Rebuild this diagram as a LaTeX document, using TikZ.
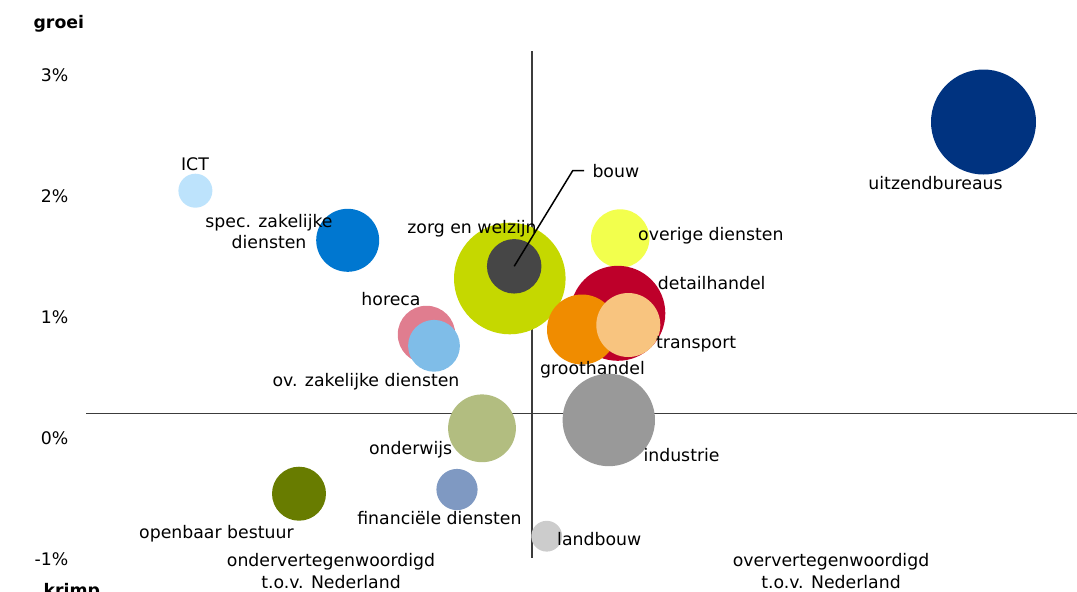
\documentclass[tikz,border=0pt]{standalone}
\usepackage{fontspec}
\setmainfont{DejaVu Sans}
\newcommand\lblfont{\fontsize{17.3}{21.3}\selectfont}
\definecolor{cICT}{HTML}{BDE3FC}
\definecolor{cSpec}{HTML}{0077D0}
\definecolor{cZorg}{HTML}{C5D800}
\definecolor{cBouw}{HTML}{464646}
\definecolor{cOver}{HTML}{F2FF4D}
\definecolor{cDetail}{HTML}{BE002A}
\definecolor{cGroot}{HTML}{F08C00}
\definecolor{cTrans}{HTML}{F8C47F}
\definecolor{cHoreca}{HTML}{E07D8F}
\definecolor{cOvzak}{HTML}{7FBDE8}
\definecolor{cOnder}{HTML}{B2BD80}
\definecolor{cOpen}{HTML}{687C00}
\definecolor{cFin}{HTML}{7F99C2}
\definecolor{cLand}{HTML}{CCCCCC}
\definecolor{cInd}{HTML}{999999}
\definecolor{cUitz}{HTML}{003380}
\definecolor{cAxis}{HTML}{3C3C3C}
\tikzset{
  bub/.style={circle, inner sep=0pt, outer sep=0pt, minimum size=#1},
  lbl/.style={font=\lblfont, inner sep=0pt, anchor=base, text=black},
  lblw/.style={lbl, anchor=base west},
  tick/.style={lbl, anchor=base east},
  axis/.style={draw=cAxis, line width=1.6pt},
  leader/.style={draw=black, line width=1.5pt},
}
\begin{document}
\begin{tikzpicture}[x=1pt,y=-1pt]
\useasboundingbox (0,0) rectangle (1077,592);
\clip (0,0) rectangle (1077,592);
% axes
\coordinate (vt) at (532,51);
\coordinate (vb) at (532,558);
\coordinate (hl) at (86,413.5);
\coordinate (hr) at (1077,413.5);
\draw[axis] (vt) -- (vb);
\draw[axis] (hl) -- (hr);
% axis titles and ticks
\node[lblw, font=\lblfont\bfseries] (groei) at (33.4,28) {groei};
\node[lblw, font=\lblfont\bfseries] (krimp) at (43.5,596) {krimp};
\node[tick] (t3) at (68.5,81) {3\%};
\node[tick] (t2) at (68.5,202.2) {2\%};
\node[tick] (t1) at (68.5,323.4) {1\%};
\node[tick] (t0) at (68.5,444.6) {0\%};
\node[tick] (tm1) at (68.5,565.8) {-1\%};
\node[lbl, align=center] (onder) at (331,588) {ondervertegenwoordigd\\t.o.v. Nederland};
\node[lbl, align=center] (boven) at (831,588) {oververtegenwoordigd\\t.o.v. Nederland};
% bubbles
\node[bub=34pt, fill=cICT] (ict) at (195.4,190.7) {};
\node[bub=63pt, fill=cSpec] (spec) at (347.7,240.3) {};
\node[bub=111.6pt, fill=cZorg] (zorg) at (509.8,278.5) {};
\node[bub=54.5pt, fill=cBouw] (bouw) at (514.2,266.3) {};
\node[bub=58.4pt, fill=cOver] (over) at (620.2,238.5) {};
\node[bub=95pt, fill=cDetail] (detail) at (617.8,313.3) {};
\node[bub=70pt, fill=cGroot] (groot) at (582,329.5) {};
\node[bub=64pt, fill=cTrans] (trans) at (628.3,325) {};
\node[bub=57.5pt, fill=cHoreca] (horeca) at (426.5,334.5) {};
\node[bub=51.8pt, fill=cOvzak] (ovzak) at (434,345.8) {};
\node[bub=67.8pt, fill=cOnder] (onderw) at (482,428.3) {};
\node[bub=54pt, fill=cOpen] (open) at (299,493.7) {};
\node[bub=41.2pt, fill=cFin] (fin) at (457,489.5) {};
\node[bub=30.8pt, fill=cLand] (land) at (546.7,536.2) {};
\node[bub=92.4pt, fill=cInd] (ind) at (608.8,420) {};
\node[bub=105pt, fill=cUitz] (uitz) at (983.5,122) {};
% labels
\node[lbl] (lict) at (195,170.3) {ICT};
\node[lbl, align=center] (lspec) at (269,248.3) {spec. zakelijke\\diensten};
\node[lbl] (lzorg) at (472,233) {zorg en welzijn};
\node[lblw] (lbouw) at (592.3,177) {bouw};
\node[lblw] (lover) at (638,240.5) {overige diensten};
\node[lblw] (ldetail) at (657.7,289) {detailhandel};
\node[lblw] (ltrans) at (656,348) {transport};
\node[lbl] (lgroot) at (592.5,374) {groothandel};
\node[lbl] (lhoreca) at (391,305.5) {horeca};
\node[lbl] (lovzak) at (366,386.5) {ov. zakelijke diensten};
\node[lbl] (londerw) at (410.6,454) {onderwijs};
\node[lbl] (lopen) at (216.4,538) {openbaar bestuur};
\node[lbl] (lfin) at (439.4,524) {financiële diensten};
\node[lblw] (lland) at (557,545.5) {landbouw};
\node[lblw] (lind) at (643.3,461.5) {industrie};
\node[lbl] (luitz) at (935.5,189) {uitzendbureaus};
% leader for bouw
\coordinate (bk1) at (572.7,170.7);
\coordinate (bk2) at (584,170.7);
\draw[leader] (bouw.center) -- (bk1) -- (bk2);
\end{tikzpicture}
\end{document}
